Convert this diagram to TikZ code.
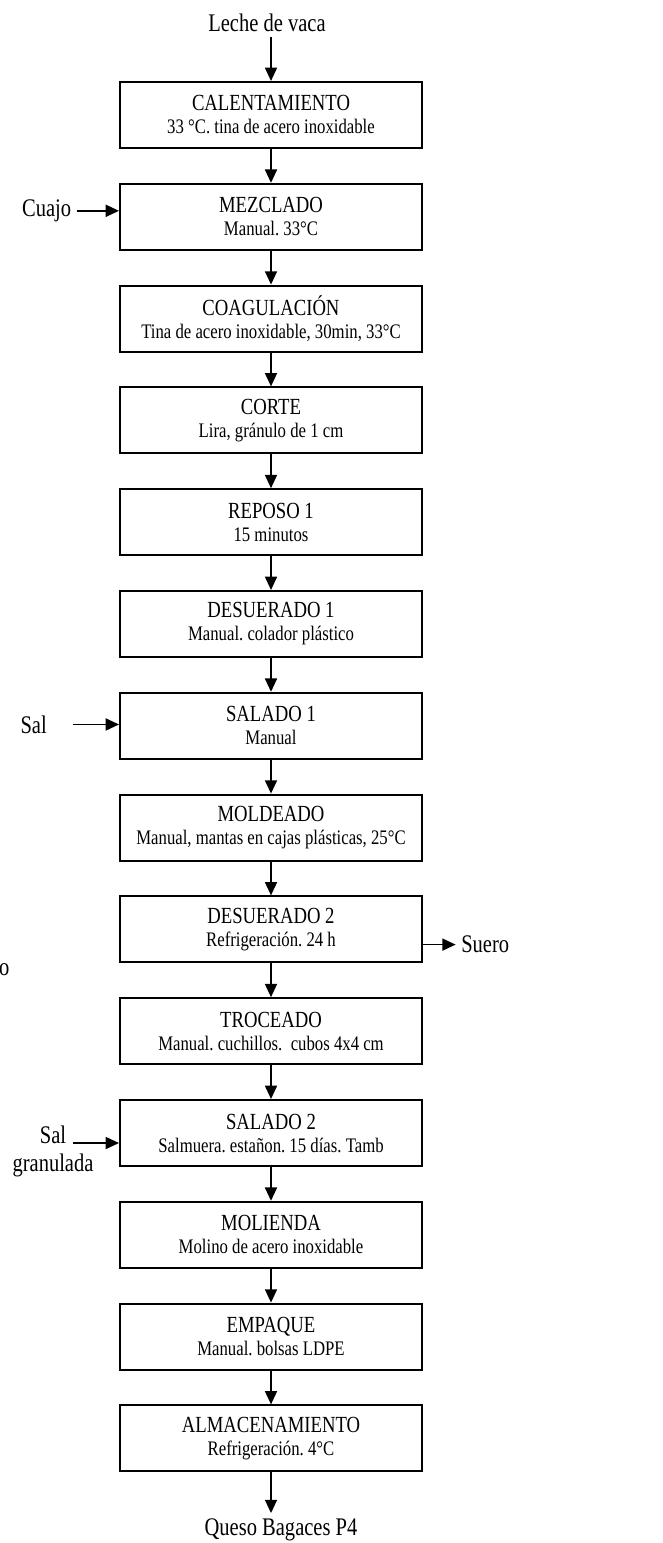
\documentclass[tikz,border=0pt]{standalone}
\usepackage{fontspec}
\setmainfont{Liberation Serif}[FakeStretch=0.81]
\usetikzlibrary{arrows.meta, positioning}
\newcommand{\detail}[1]{{\fontsize{15.5}{17.25}\selectfont #1}}
\begin{document}
\frenchspacing
\begin{tikzpicture}[
    elem/.style={draw,rectangle,line width=1.5pt,node distance=25.35pt,align=center,minimum width=226.5pt, minimum height=49.5pt,inner sep=0pt,font=\fontsize{17.3}{17.25}\selectfont},
    lab/.style={inner sep=4pt,font=\fontsize{19}{21}\selectfont},
    flow/.style={-{Triangle[length=10pt,width=9pt]},line width=1.3pt}]
    \useasboundingbox (0,0) rectangle (496.5pt,-1157.25pt);
    \node (cal) [elem] at (203.25pt,-86.25pt) {CALENTAMIENTO\\\detail{33 °C. tina de acero inoxidable}};
    \node (mez) [elem,below=of cal] {MEZCLADO\\\detail{Manual. 33°C}};
    \node (coa) [elem,below=of mez] {COAGULACIÓN\\\detail{Tina de acero inoxidable, 30min, 33°C}};
    \node (cor) [elem,below=of coa] {CORTE\\\detail{Lira, gránulo de 1 cm}};
    \node (rep) [elem,below=of cor] {REPOSO 1\\\detail{15 minutos}};
    \node (de1) [elem,below=of rep] {DESUERADO 1\\\detail{Manual. colador plástico}};
    \node (sa1) [elem,below=of de1] {SALADO 1\\\detail{Manual}};
    \node (mol) [elem,below=of sa1] {MOLDEADO\\\detail{Manual, mantas en cajas plásticas, 25°C}};
    \node (de2) [elem,below=of mol] {DESUERADO 2\\\detail{Refrigeración. 24 h}};
    \node (tro) [elem,below=of de2] {TROCEADO\\\detail{Manual. cuchillos.\ \ cubos 4x4 cm}};
    \node (sa2) [elem,below=of tro] {SALADO 2\\\detail{Salmuera. estañon. 15 días. Tamb}};
    \node (mli) [elem,below=of sa2] {MOLIENDA\\\detail{Molino de acero inoxidable}};
    \node (emp) [elem,below=of mli] {EMPAQUE\\\detail{Manual. bolsas LDPE}};
    \node (alm) [elem,below=of emp] {ALMACENAMIENTO\\\detail{Refrigeración. 4°C}};
    \node (lec) [lab,above=33pt of cal,xshift=-3pt] {Leche de vaca};
    \node (que) [lab,below=30.5pt of alm,xshift=7.5pt] {Queso Bagaces P4};
    \node (cua) [lab,left=31.7pt of mez.west,yshift=4.5pt] {Cuajo};
    \node (sal) [lab,left=50pt of sa1.west,yshift=1pt] {Sal};
    \node (sue) [lab,right=24.5pt of de2.east,yshift=-11.4pt] {Suero};
    \node (rst) [lab,left=78pt of de2.west,yshift=-30.5pt] {o};
    \coordinate (sg) at ([xshift=-34.5pt,yshift=-7.5pt]sa2.west);
    \node (gra) [lab,align=center,anchor=north] at ([xshift=-15pt,yshift=17pt]sg) {Sal\\granulada};
    \draw[flow] (cal |- lec.south) -- (cal);
    \draw[flow] (cal) -- (mez);
    \draw[flow] (mez) -- (coa);
    \draw[flow] (coa) -- (cor);
    \draw[flow] (cor) -- (rep);
    \draw[flow] (rep) -- (de1);
    \draw[flow] (de1) -- (sa1);
    \draw[flow] (sa1) -- (mol);
    \draw[flow] (mol) -- (de2);
    \draw[flow] (de2) -- (tro);
    \draw[flow] (tro) -- (sa2);
    \draw[flow] (sa2) -- (mli);
    \draw[flow] (mli) -- (emp);
    \draw[flow] (emp) -- (alm);
    \draw[flow] (alm) -- (alm |- que.north);
    \draw[flow] (cua) -- (cua -| mez.west);
    \draw[flow,shorten <=15.5pt] (sal) -- (sal -| sa1.west);
    \draw[flow] (de2.east |- sue) -- (sue);
    \draw[flow] (sg) -- (sg -| sa2.west);
\end{tikzpicture}
\end{document}
